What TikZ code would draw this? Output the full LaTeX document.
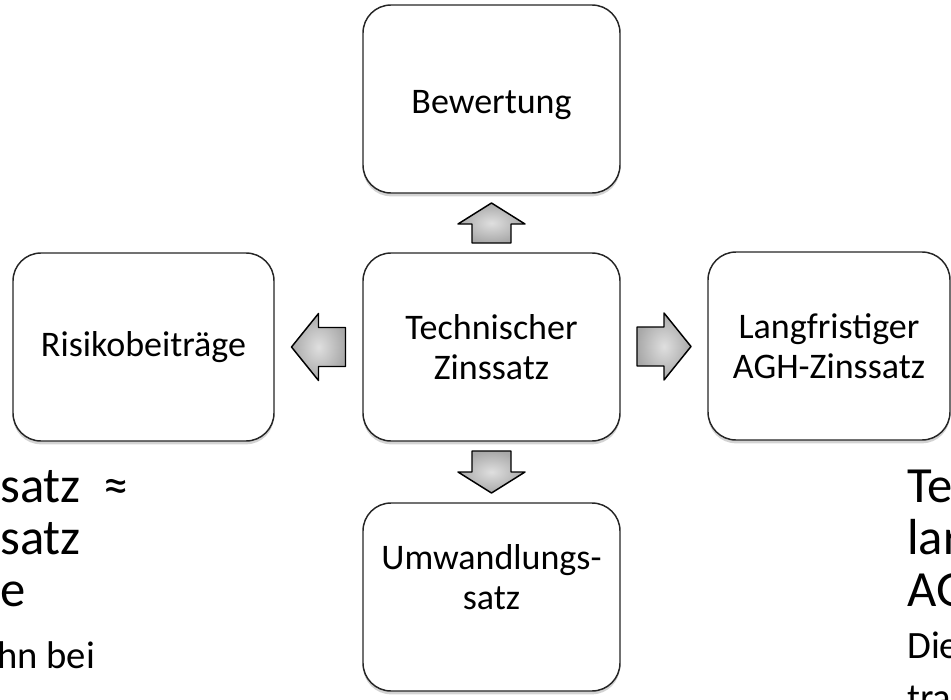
\documentclass[tikz,border=0pt]{standalone}
\usepackage{fontspec}
\setmainfont{Carlito}
\usetikzlibrary{calc,shadows}

% block arrow between two boxes: centre, direction, length, head length
\newcommand{\flowarrow}[4]{%
  \begin{scope}[shift={#1},rotate=#2]
    \draw[blockarrow] (-#3/2,-19.5) -- ({#3/2-#4},-19.5) -- ({#3/2-#4},-33.5)
      -- ({#3/2},0) -- ({#3/2-#4},33.5) -- ({#3/2-#4},19.5) -- (-#3/2,19.5) -- cycle;
  \end{scope}}

\begin{document}
\begin{tikzpicture}[x=0.75pt,y=-0.75pt,
  tile/.style={draw=black!85,line width=1.1pt,fill=white,rounded corners=21pt,align=center,
    minimum width=192.75pt,minimum height=141pt,font=\fontsize{27}{30}\selectfont,
    drop shadow={shadow xshift=0pt,shadow yshift=-2.5pt,opacity=0.35,fill=black!50}},
  bigtxt/.style={anchor=base west,inner sep=0pt,font=\fontsize{38}{44}\selectfont},
  smalltxt/.style={anchor=base west,inner sep=0pt,font=\fontsize{29}{34}\selectfont},
  blockarrow/.style={draw=black,line width=1.1pt,line join=round,inner color=gray!25,outer color=gray!68}]
\useasboundingbox (0,0) rectangle (951,700);
\clip (0,0) rectangle (951,700);

% boxes
\node[tile,text height=27pt] (bew) at (491.5,99) {Bewertung};
\node[tile] (tech) at (491.5,347) {Technischer\\Zinssatz};
\node[tile,minimum width=195.75pt] (risk) at (143.5,347) {Risikobeiträge};
\node[tile,minimum width=181.5pt] (agh) at (829,346) {Langfristiger\\AGH-Zinssatz};
\node[tile,text depth=30pt] (umw) at (491.5,597) {Umwandlungs-\\satz};

% arrows
\flowarrow{($(tech.north)!0.5!(bew.south)$)}{90}{40}{21}
\flowarrow{($(tech.south)!0.5!(umw.north)$)}{270}{42}{21}
\flowarrow{($(tech.west)!0.5!(risk.east)$)}{180}{54}{27}
\flowarrow{($(tech.east)!0.5!(agh.west)$)}{0}{54}{27}

% cut-off text at the sides
\node[bigtxt] (lsatz) at (0,502) {satz\ \ ≈};
\node[bigtxt] (lsatzb) at (0,554) {satz};
\node[bigtxt] (le) at (0,606) {e};
\node[smalltxt] (lhn) at (-3,668) {hn bei};
\node[bigtxt] (rte) at (907,502) {Te};
\node[bigtxt] (rlar) at (907,554) {lar};
\node[bigtxt] (rag) at (907,606) {AG};
\node[smalltxt] (rdie) at (907,658) {Die};
\node[smalltxt] (rtra) at (907,710) {tra};
\end{tikzpicture}
\end{document}
